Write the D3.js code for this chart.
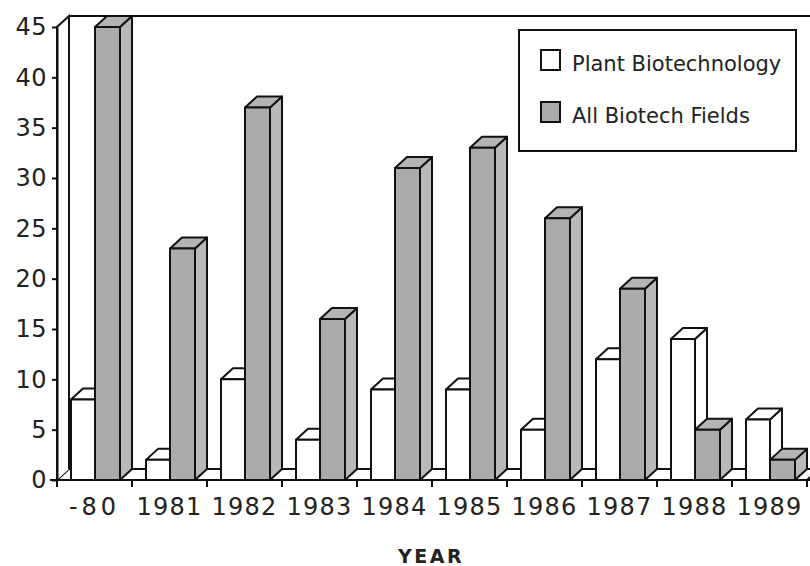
<!DOCTYPE html>
<html>
<head>
<meta charset="utf-8">
<script src="https://cdn.jsdelivr.net/npm/d3@7"></script>
<style>
  body { margin: 0; background: #fff; }
  svg { display: block; }
</style>
</head>
<body>
<svg id="chart" width="810" height="566"></svg>
<script>
const categories = ["-80", "1981", "1982", "1983", "1984", "1985", "1986", "1987", "1988", "1989"];
const plantBiotech = [8, 2, 10, 4, 9, 9, 5, 12, 14, 6];
const allBiotech = [45, 23, 37, 16, 31, 33, 26, 19, 5, 2];
const yTicks = [0, 5, 10, 15, 20, 25, 30, 35, 40, 45];
const seriesNames = ["Plant Biotechnology", "All Biotech Fields"];
const seriesColors = ["#ffffff", "#ababab"];

const svg = d3.select("#chart");
const FONT = "'DejaVu Sans', Verdana, sans-serif";
const dx = 12, dy = 11;

const x = d3.scaleBand().domain(categories).range([57, 807]).paddingInner(0).paddingOuter(0);
const y = d3.scaleLinear().domain([0, 45]).range([480, 27]);
const y0 = y(0);

// floor
const xL = x.range()[0], xR = x.range()[1];
svg.append("path")
  .attr("d", `M${xL},${y0} L${xL + dx},${y0 - dy} L${xR + dx},${y0 - dy} L${xR},${y0} Z`)
  .attr("fill", "#fff").attr("stroke", "#111").attr("stroke-width", 2);

// left wall
svg.append("path")
  .attr("d", `M${xL},${y0} L${xL},${y(45)} L${xL + dx},${y(45) - dy} L${xL + dx},${y0 - dy}`)
  .attr("fill", "#fff").attr("stroke", "#111").attr("stroke-width", 2);
// back wall top edge
svg.append("line")
  .attr("x1", xL + dx).attr("x2", 815)
  .attr("y1", y(45) - dy).attr("y2", y(45) - dy)
  .attr("stroke", "#111").attr("stroke-width", 2);

// bars
const offsets = [14, 38];
const widths = [24, 25];
const data = [plantBiotech, allBiotech];
const sideShade = ["#ffffff", "#b9b9b9"];
const topShade = ["#ffffff", "#b4b4b4"];

const gBars = svg.append("g");
categories.forEach((cat, i) => {
  data.forEach((vals, s) => {
    const bx = x(cat) + offsets[s];
    const bw = widths[s];
    const yv = y(vals[i]);
    const g = gBars.append("g")
      .attr("stroke", "#111").attr("stroke-width", 2).attr("stroke-linejoin", "round");
    g.append("path")
      .attr("d", `M${bx + bw},${yv} L${bx + bw + dx},${yv - dy} L${bx + bw + dx},${y0 - dy} L${bx + bw},${y0} Z`)
      .attr("fill", sideShade[s]);
    g.append("path")
      .attr("d", `M${bx},${yv} L${bx + dx},${yv - dy} L${bx + bw + dx},${yv - dy} L${bx + bw},${yv} Z`)
      .attr("fill", topShade[s]);
    g.append("rect")
      .attr("x", bx).attr("y", yv).attr("width", bw).attr("height", y0 - yv)
      .attr("fill", seriesColors[s]);
  });
});

// Y axis
const yAxis = svg.append("g")
  .attr("transform", `translate(${xL},0)`)
  .call(d3.axisLeft(y).tickValues(yTicks).tickSize(5).tickSizeOuter(0).tickPadding(5));
yAxis.select(".domain").attr("stroke", "#111").attr("stroke-width", 2);
yAxis.selectAll(".tick line").attr("stroke", "#111").attr("stroke-width", 2);
yAxis.selectAll(".tick text")
  .attr("font-family", FONT).attr("font-size", 24).attr("fill", "#222")
  .attr("letter-spacing", 0.5);

// X axis
const xAxis = svg.append("g")
  .attr("transform", `translate(0,${y0})`)
  .call(d3.axisBottom(x).tickSize(0).tickSizeOuter(0).tickPadding(18));
xAxis.select(".domain").remove();
xAxis.selectAll(".tick text")
  .attr("font-family", FONT).attr("font-size", 24).attr("fill", "#222")
  .attr("letter-spacing", d => d === "-80" ? 4 : 1.2);
svg.append("line")
  .attr("x1", 50).attr("x2", 810).attr("y1", y0).attr("y2", y0)
  .attr("stroke", "#111").attr("stroke-width", 2);
// boundary ticks
svg.append("g").selectAll("line")
  .data(categories.concat(["__end"]))
  .join("line")
  .attr("x1", d => d === "__end" ? xR : x(d))
  .attr("x2", d => d === "__end" ? xR : x(d))
  .attr("y1", y0).attr("y2", y0 + 7)
  .attr("stroke", "#111").attr("stroke-width", 2);

// X title
svg.append("text")
  .attr("x", 431).attr("y", 563)
  .attr("text-anchor", "middle")
  .attr("font-family", FONT).attr("font-size", 19).attr("font-weight", "bold")
  .attr("letter-spacing", 2.5).attr("fill", "#222")
  .text("YEAR");

// Legend
const lg = svg.append("g");
lg.append("rect")
  .attr("x", 519).attr("y", 30).attr("width", 277).attr("height", 121)
  .attr("fill", "#fff").attr("stroke", "#111").attr("stroke-width", 2);
const legendRows = [71, 123];
seriesNames.forEach((name, s) => {
  lg.append("rect")
    .attr("x", 541).attr("y", legendRows[s] - 21).attr("width", 19).attr("height", 20)
    .attr("fill", seriesColors[s]).attr("stroke", "#111").attr("stroke-width", 2);
  lg.append("text")
    .attr("x", 572).attr("y", legendRows[s])
    .attr("font-family", FONT).attr("font-size", 21).attr("fill", "#222")
    .text(name);
});
</script>
</body>
</html>
